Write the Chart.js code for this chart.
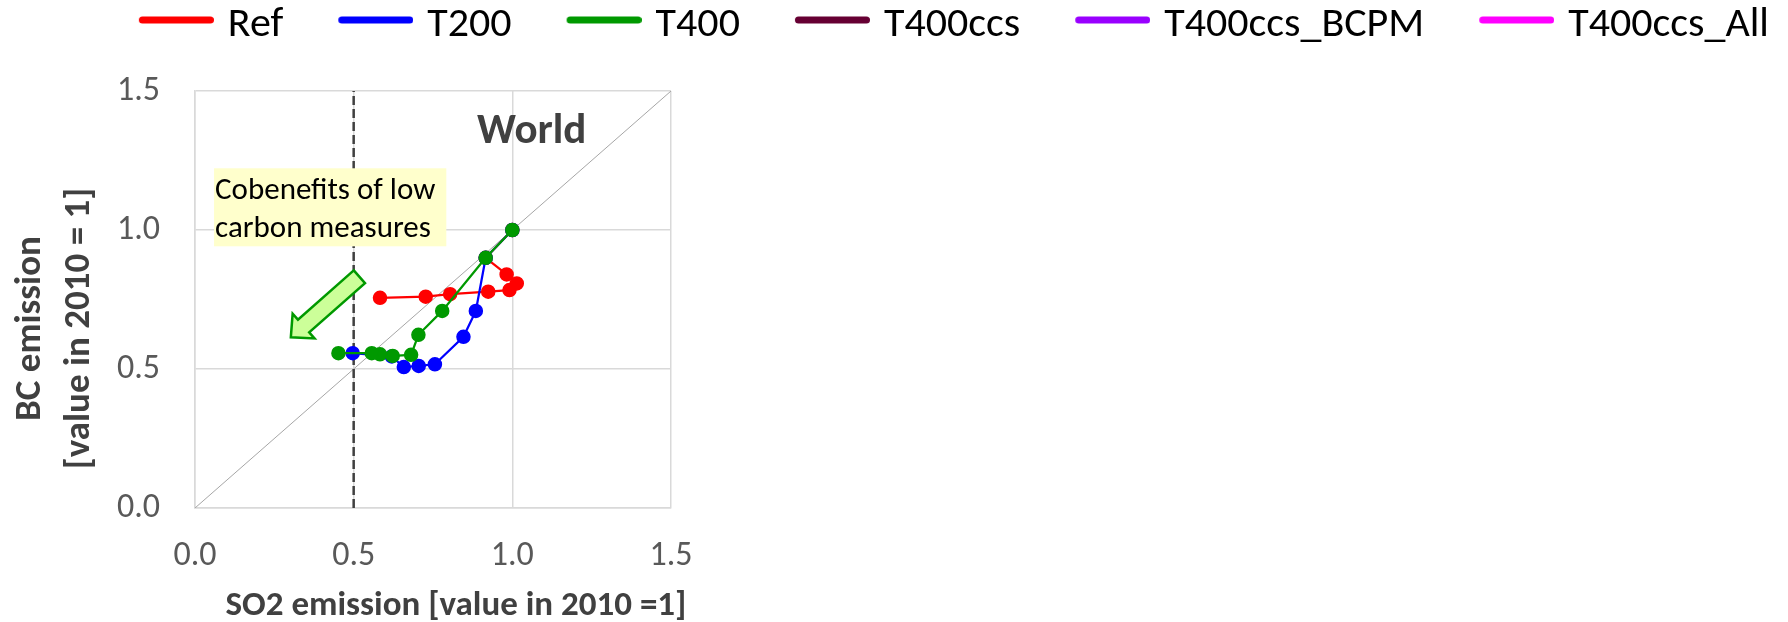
<!DOCTYPE html>
<html>
<head>
<meta charset="utf-8">
<title>SO2 vs BC emission</title>
<script src="https://cdn.jsdelivr.net/npm/chart.js@4.4.1/dist/chart.umd.min.js"></script>
<style>
  html, body { margin: 0; padding: 0; background: #fff; }
  #chart { display: block; }
</style>
</head>
<body>
<canvas id="chart" width="1788" height="622"></canvas>
<script>
const FONT = "Carlito, Lato, sans-serif";

// Scenarios, in legend order
const scenarios = ["Ref", "T200", "T400", "T400ccs", "T400ccs_BCPM", "T400ccs_All"];
const colors = ["#FF0000", "#0000FF", "#009900", "#660033", "#9900FF", "#FF00FF"];

// Emissions relative to 2010 (x = SO2, y = BC), one point per decade from 2010
const refSO2 = [1.0, 0.916, 0.982, 1.014, 0.991, 0.924, 0.804, 0.727, 0.583];
const refBC = [1.0, 0.900, 0.840, 0.808, 0.784, 0.778, 0.769, 0.760, 0.756];
const t200SO2 = [1.0, 0.916, 0.885, 0.846, 0.756, 0.705, 0.658, 0.620, 0.497];
const t200BC = [1.0, 0.900, 0.709, 0.616, 0.517, 0.511, 0.507, 0.545, 0.557];
const t400SO2 = [1.0, 0.916, 0.779, 0.704, 0.681, 0.623, 0.583, 0.557, 0.452];
const t400BC = [1.0, 0.900, 0.709, 0.623, 0.551, 0.547, 0.553, 0.557, 0.557];
const seriesSO2 = [refSO2, t200SO2, t400SO2, [], [], []];
const seriesBC = [refBC, t200BC, t400BC, [], [], []];

const axisTicks = [0, 0.5, 1.0, 1.5];
const diagonal = [0, 1.5];   // 1:1 line
const so2Mark = 0.5;         // dashed reference at half of 2010 SO2

const xTitle = "SO2 emission [value in 2010 =1]";
const yTitle = ["BC emission", "[value in 2010 = 1]"];

// Text and arrow anchors (data units)
const noteAt = { x: 0.06, y: 1.222 };
const noteLines = ["Cobenefits of low", "carbon measures"];
const arrowFrom = { x: 0.518, y: 0.832 };
const arrowTo = { x: 0.302, y: 0.614 };
const regionAt = { x: 0.889, y: 1.313 };
const regionName = "World";

// legend geometry
const LEG_FONT = 42, LEG_LINE = 75, LEG_GAP = 14, LEG_SPACE = 55, LEG_PAD = 4;
const LEG_BOX = LEG_SPACE - LEG_PAD + LEG_LINE + LEG_GAP - LEG_FONT / 2;

// legend swatch: a thick rounded line sitting just left of the label
function legendLine(color) {
    const c = document.createElement("canvas");
    c.width = LEG_BOX + LEG_FONT - 2 * LEG_GAP;
    c.height = 20;
    const g = c.getContext("2d");
    g.strokeStyle = color;
    g.lineWidth = 7;
    g.lineCap = "round";
    g.beginPath();
    g.moveTo(c.width - LEG_LINE + 3.5, 5);
    g.lineTo(c.width - 3.5, 5);
    g.stroke();
    return c;
}

const datasets = scenarios.map((name, i) => ({
    label: name,
    data: seriesSO2[i].map((v, k) => ({ x: v, y: seriesBC[i][k] })),
    showLine: true,
    borderColor: colors[i],
    backgroundColor: colors[i],
    borderWidth: 2.25,
    pointRadius: 6.5,
    pointBorderWidth: 1.5,
    pointHoverRadius: 6.5,
    order: 6 - i
}));

datasets.push({
    label: "1:1",
    guide: true,
    data: diagonal.map(v => ({ x: v, y: v })),
    showLine: true,
    borderColor: "#A6A6A6",
    borderWidth: 1,
    pointRadius: 0,
    order: 20
});
datasets.push({
    label: "SO2 0.5",
    guide: true,
    data: [{ x: so2Mark, y: axisTicks[0] }, { x: so2Mark, y: axisTicks[axisTicks.length - 1] }],
    showLine: true,
    borderColor: "#404040",
    borderWidth: 2.5,
    borderDash: [9, 4],
    pointRadius: 0,
    order: 19
});

// note box, arrow, region name and axis titles
const overlays = {
    id: "overlays",
    afterDatasetsDraw(chart) {
        const { ctx, chartArea, scales: { x, y } } = chart;
        ctx.save();

        ctx.font = `31px ${FONT}`;
        const bx = x.getPixelForValue(noteAt.x);
        const by = y.getPixelForValue(noteAt.y);
        const bw = Math.max(...noteLines.map(t => ctx.measureText(t).width)) + 12;
        ctx.fillStyle = "#FFFFCC";
        ctx.fillRect(bx, by, bw, 78);
        ctx.fillStyle = "#000";
        ctx.textBaseline = "alphabetic";
        noteLines.forEach((t, i) => ctx.fillText(t, bx + 1, by + 31 + i * 38));

        const ax = x.getPixelForValue(arrowFrom.x), ay = y.getPixelForValue(arrowFrom.y);
        const tx = x.getPixelForValue(arrowTo.x), ty = y.getPixelForValue(arrowTo.y);
        const len = Math.hypot(tx - ax, ty - ay);
        const ux = (tx - ax) / len, uy = (ty - ay) / len;
        const nx = -uy, ny = ux;
        const shaft = 8.5, head = 16.5, headLen = 17;
        const hx = tx - ux * headLen, hy = ty - uy * headLen;
        ctx.beginPath();
        ctx.moveTo(ax + nx * shaft, ay + ny * shaft);
        ctx.lineTo(hx + nx * shaft, hy + ny * shaft);
        ctx.lineTo(hx + nx * head, hy + ny * head);
        ctx.lineTo(tx, ty);
        ctx.lineTo(hx - nx * head, hy - ny * head);
        ctx.lineTo(hx - nx * shaft, hy - ny * shaft);
        ctx.lineTo(ax - nx * shaft, ay - ny * shaft);
        ctx.closePath();
        ctx.fillStyle = "#CCFF99";
        ctx.fill();
        ctx.strokeStyle = "#009900";
        ctx.lineWidth = 2.5;
        ctx.stroke();

        ctx.font = `bold 43px ${FONT}`;
        ctx.fillStyle = "#404040";
        ctx.fillText(regionName, x.getPixelForValue(regionAt.x), y.getPixelForValue(regionAt.y));

        // axis titles
        ctx.textAlign = "center";
        ctx.font = `bold 35px ${FONT}`;
        ctx.fillText(xTitle, (chartArea.left + chartArea.right) / 2 + 23, chartArea.bottom + 107);
        ctx.font = `bold 37px ${FONT}`;
        const midY = (chartArea.top + chartArea.bottom) / 2 + 29;
        yTitle.forEach((t, i) => {
            ctx.save();
            ctx.translate(40 + i * 49, midY);
            ctx.rotate(-Math.PI / 2);
            ctx.fillText(t, 0, 0);
            ctx.restore();
        });
        ctx.restore();
    }
};

const tickFont = { family: FONT, size: 34 };

new Chart(document.getElementById("chart"), {
    type: "scatter",
    data: { datasets },
    plugins: [overlays],
    options: {
        responsive: false,
        animation: false,
        devicePixelRatio: 1,
        layout: { padding: { right: 15 } },
        plugins: {
            tooltip: { enabled: false },
            legend: {
                position: "top",
                align: "end",
                labels: {
                    usePointStyle: true,
                    pointStyleWidth: LEG_BOX,
                    padding: LEG_PAD,
                    color: "#000",
                    font: { family: FONT, size: LEG_FONT },
                    filter: (item, data) => !data.datasets[item.datasetIndex].guide,
                    sort: (a, b) => a.datasetIndex - b.datasetIndex,
                    generateLabels(chart) {
                        const items = Chart.defaults.plugins.legend.labels.generateLabels(chart);
                        items.forEach(item => {
                            item.pointStyle = legendLine(chart.data.datasets[item.datasetIndex].borderColor);
                        });
                        return items;
                    }
                }
            }
        },
        scales: {
            x: {
                type: "linear",
                min: axisTicks[0],
                max: axisTicks[axisTicks.length - 1],
                afterBuildTicks: s => { s.ticks = axisTicks.map(v => ({ value: v })); },
                afterFit: s => { s.height = 114; s.paddingRight = 1117; },
                ticks: { color: "#595959", font: tickFont, padding: 28, callback: v => v.toFixed(1) },
                grid: { color: "#D9D9D9", lineWidth: 1.5, drawTicks: false },
                border: { color: "#D9D9D9", width: 1.5 }
            },
            // empty band between legend and plot
            gap: {
                type: "linear",
                axis: "x",
                position: "top",
                grid: { display: false },
                ticks: { display: false },
                border: { display: false },
                afterFit: s => { s.height = Math.max(0, 91 - s.chart.legend.height); }
            },
            y: {
                type: "linear",
                min: axisTicks[0],
                max: axisTicks[axisTicks.length - 1],
                afterBuildTicks: s => { s.ticks = axisTicks.map(v => ({ value: v })); },
                afterFit: s => { s.width = 195; },
                ticks: { color: "#595959", font: tickFont, padding: 35, callback: v => v.toFixed(1) },
                grid: { color: "#D9D9D9", lineWidth: 1.5, drawTicks: false },
                border: { color: "#D9D9D9", width: 1.5 }
            }
        }
    }
});
</script>
</body>
</html>
